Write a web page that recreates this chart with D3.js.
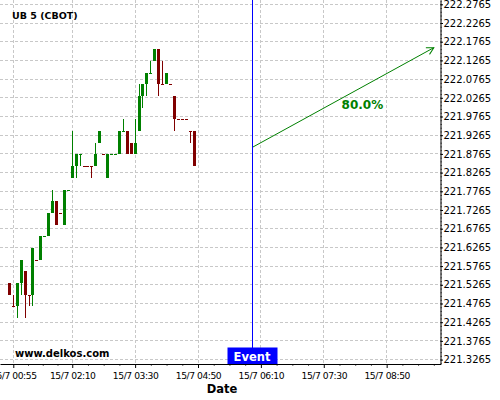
<!DOCTYPE html>
<html>
<head>
<meta charset="utf-8">
<script src="https://cdn.jsdelivr.net/npm/d3@7"></script>
<style>
  body { margin: 0; background: #fff; }
  svg { display: block; font-family: 'DejaVu Sans', sans-serif; }
</style>
</head>
<body>
<svg class="chart"></svg>
<script>
// 5 minute candles, UB 5 (CBOT), 15/7
var times = ['00:50', '00:55', '01:00', '01:05', '01:10', '01:15', '01:20', '01:25', '01:30', '01:35',
  '01:40', '01:45', '01:50', '01:55', '02:00', '02:05', '02:10', '02:15', '02:20', '02:25',
  '02:30', '02:35', '02:40', '02:45', '02:50', '02:55', '03:00', '03:05', '03:10', '03:15',
  '03:20', '03:25', '03:30', '03:35', '03:40', '03:45', '03:50', '03:55', '04:00', '04:05',
  '04:10', '04:15', '04:20', '04:25', '04:30', '04:35', '04:40', '04:45'];

var opens = [221.53125, 221.46875, 221.46875, 221.53125, 221.5625, 221.5, 221.5, 221.59375, 221.59375, 221.65625,
  221.65625, 221.71875, 221.75, 221.71875, 221.6875, 221.78125, 221.8125, 221.84375, 221.875, 221.84375,
  221.84375, 221.84375, 221.84375, 221.90625, 221.875, 221.8125, 221.875, 221.875, 221.875, 221.9375,
  221.9375, 221.90625, 221.875, 221.9375, 222.03125, 222.0625, 222.09375, 222.125, 222.15625, 222.0625,
  222.0625, 222.0625, 222.03125, 221.96875, 221.96875, 221.96875, 221.9375, 221.9375];

var highs = [221.53125, 221.5, 221.53125, 221.59375, 221.5625, 221.5, 221.625, 221.59375, 221.65625, 221.65625,
  221.71875, 221.78125, 221.75, 221.71875, 221.78125, 221.78125, 221.9375, 221.875, 221.875, 221.84375,
  221.84375, 221.84375, 221.90625, 221.9375, 221.875, 221.875, 221.875, 221.875, 221.9375, 221.96875,
  221.9375, 221.90625, 221.96875, 222.0625, 222.0625, 222.09375, 222.125, 222.15625, 222.15625, 222.125,
  222.09375, 222.0625, 222.03125, 221.96875, 221.96875, 221.96875, 221.9375, 221.9375];

var lows = [221.5, 221.46875, 221.4375, 221.5, 221.4375, 221.46875, 221.46875, 221.59375, 221.59375, 221.65625,
  221.65625, 221.71875, 221.6875, 221.71875, 221.6875, 221.78125, 221.8125, 221.8125, 221.84375, 221.84375,
  221.84375, 221.8125, 221.84375, 221.90625, 221.875, 221.8125, 221.875, 221.875, 221.875, 221.9375,
  221.875, 221.875, 221.875, 221.9375, 222.0, 222.03125, 222.09375, 222.125, 222.03125, 222.0625,
  222.0625, 222.0625, 221.9375, 221.96875, 221.96875, 221.96875, 221.90625, 221.84375];

var closes = [221.5, 221.46875, 221.53125, 221.59375, 221.5, 221.5, 221.625, 221.59375, 221.65625, 221.65625,
  221.71875, 221.75, 221.6875, 221.71875, 221.78125, 221.78125, 221.84375, 221.875, 221.875, 221.84375,
  221.84375, 221.84375, 221.875, 221.9375, 221.875, 221.875, 221.875, 221.875, 221.9375, 221.9375,
  221.875, 221.875, 221.90625, 222.03125, 222.0625, 222.09375, 222.09375, 222.15625, 222.0625, 222.0625,
  222.09375, 222.0625, 221.96875, 221.96875, 221.96875, 221.96875, 221.9375, 221.84375];

// 1 = up (green), 0 = down (red), as coloured in the picture
var rising = [0, 0, 1, 1, 0, 0, 1, 0, 1, 1,
  1, 1, 0, 0, 1, 1, 1, 1, 1, 0,
  0, 0, 1, 1, 0, 1, 1, 1, 1, 1,
  0, 0, 1, 1, 1, 1, 1, 1, 0, 0,
  1, 0, 0, 0, 0, 0, 0, 0];

var yTicks = [221.3265, 221.3765, 221.4265, 221.4765, 221.5265, 221.5765, 221.6265, 221.6765, 221.7265, 221.7765,
  221.8265, 221.8765, 221.9265, 221.9765, 222.0265, 222.0765, 222.1265, 222.1765, 222.2265, 222.2765];

var xTicks = ['00:55', '02:10', '03:30', '04:50', '06:10', '07:30', '08:50'];
var xMinorTicks = ['01:13:45', '01:32:30', '01:51:15', '02:30', '02:50', '03:10', '03:50', '04:10', '04:30',
  '05:10', '05:30', '05:50', '06:30', '06:50', '07:10', '07:50', '08:10', '08:30', '09:10', '09:30', '09:50'];

var eventTime = '06:00';
var forecastStart = { time: '06:00', value: 221.895 };
var forecastEnd = { time: '09:50', value: 222.1605 };
var forecastLabel = '80.0%';

(function() {
  'use strict';
var width = 440.5,
    height = 364;

var parse = d3.timeParse('%H:%M:%S');
function t(s) { return parse(s.length === 5 ? s + ':00' : s); }

var x = d3.scaleTime()
    .domain([t('00:38:06'), t('09:58:30')])
    .range([0, width]);

var y = d3.scaleLinear()
    .domain([221.3147, 222.288])
    .range([height, 0]);

var green = '#008000',
    red = '#800000';

var chart = d3.select('.chart')
    .attr('width', 500)
    .attr('height', 400);

var data = times.map(function(s, i) {
  return { time: t(s), open: opens[i], high: highs[i], low: lows[i], close: closes[i], up: rising[i] === 1 };
});

// grid
var grid = chart.append('g')
    .attr('stroke', '#c8c8c8')
    .attr('stroke-dasharray', '3,2')
    .attr('shape-rendering', 'crispEdges');

grid.selectAll('.hgrid')
    .data(yTicks)
  .enter().append('line')
    .attr('x1', 0)
    .attr('x2', width)
    .attr('y1', function(d) { return y(d); })
    .attr('y2', function(d) { return y(d); });

grid.selectAll('.vgrid')
    .data(xTicks)
  .enter().append('line')
    .attr('x1', function(d) { return x(t(d)); })
    .attr('x2', function(d) { return x(t(d)); })
    .attr('y1', 0)
    .attr('y2', height);

// candles
var candle = chart.append('g')
    .attr('shape-rendering', 'crispEdges')
  .selectAll('g')
    .data(data)
  .enter().append('g')
    .attr('fill', function(d) { return d.up ? green : red; })
    .attr('stroke', function(d) { return d.up ? green : red; });

candle.append('line')
    .attr('x1', function(d) { return x(d.time); })
    .attr('x2', function(d) { return x(d.time); })
    .attr('y1', function(d) { return y(d.high); })
    .attr('y2', function(d) { return y(d.low); });

candle.append('rect')
    .attr('stroke', 'none')
    .attr('x', function(d) { return x(d.time) - 1.5; })
    .attr('width', 3)
    .attr('y', function(d) { return y(Math.max(d.open, d.close)); })
    .attr('height', function(d) { return Math.max(1, y(Math.min(d.open, d.close)) - y(Math.max(d.open, d.close))); });

// event line and tag
var ex = Math.round(x(t(eventTime))) - 0.5;
chart.append('line')
    .attr('x1', ex)
    .attr('x2', ex)
    .attr('y1', 0)
    .attr('y2', 348)
    .style('stroke', '#0000ff')
    .style('stroke-width', 1);

chart.append('rect')
    .attr('x', ex - 25)
    .attr('y', 347.5)
    .attr('width', 50)
    .attr('height', 16.5)
    .attr('fill', '#0000ff');

chart.append('text')
    .attr('x', ex - 0.5)
    .attr('y', 360.5)
    .attr('text-anchor', 'middle')
    .attr('fill', '#fff')
    .attr('font-weight', 'bold')
    .attr('font-size', '11.5px')
    .text('Event');

// forecast arrow
chart.append('defs').append('marker')
    .attr('id', 'head')
    .attr('markerUnits', 'userSpaceOnUse')
    .attr('viewBox', '-9 -5 10 10')
    .attr('markerWidth', 10)
    .attr('markerHeight', 10)
    .attr('orient', 'auto')
  .append('path')
    .attr('d', 'M-7,-3.8L0,0L-7,3.8')
    .attr('fill', 'none')
    .attr('stroke', green);

var ax1 = x(t(forecastStart.time)), ay1 = y(forecastStart.value),
    ax2 = x(t(forecastEnd.time)), ay2 = y(forecastEnd.value);

chart.append('line')
    .attr('x1', ax1)
    .attr('y1', ay1)
    .attr('x2', ax2)
    .attr('y2', ay2)
    .attr('stroke', green)
    .attr('marker-end', 'url(#head)');

chart.append('text')
    .attr('x', (ax1 + ax2) / 2 + 19)
    .attr('y', (ay1 + ay2) / 2 + 12)
    .attr('text-anchor', 'middle')
    .attr('fill', green)
    .attr('font-weight', 'bold')
    .attr('font-size', '12px')
    .text(forecastLabel);

// axes
var yAxis = d3.axisRight(y)
    .tickValues(yTicks)
    .tickSize(2.5)
    .tickSizeOuter(0)
    .tickPadding(0.5)
    .tickFormat(d3.format('.4f'));

var yMinor = d3.range(0, 98).map(function(i) { return 221.3165 + i * 0.01; })
    .filter(function(v) { return v <= 222.288; });

chart.append('g')
    .attr('transform', 'translate(' + width + ',0)')
    .call(d3.axisRight(y).tickValues(yMinor).tickSize(1.5).tickFormat(''))
    .call(function(g) { g.select('.domain').remove(); })
    .selectAll('line').attr('stroke', '#666');

var yg = chart.append('g')
    .attr('transform', 'translate(' + width + ',0)')
    .call(yAxis);
yg.attr('font-family', null).attr('font-size', '10px');
yg.selectAll('text').attr('fill', '#000');

var xAxis = d3.axisBottom(x)
    .tickValues(xTicks.map(t))
    .tickSize(4)
    .tickSizeOuter(0)
    .tickPadding(4.5)
    .tickFormat(d3.timeFormat('15/7 %H:%M'));

chart.append('g')
    .attr('transform', 'translate(0,' + height + ')')
    .call(d3.axisBottom(x).tickValues(xMinorTicks.map(t)).tickSize(2).tickFormat(''))
    .call(function(g) { g.select('.domain').remove(); })
    .selectAll('line').attr('stroke', '#666');

var xg = chart.append('g')
    .attr('transform', 'translate(0,' + height + ')')
    .call(xAxis);
xg.attr('font-family', null).attr('font-size', '9.2px');
xg.selectAll('text').attr('fill', '#000').attr('letter-spacing', '-0.45px');

chart.append('text')
    .attr('x', 222)
    .attr('y', 393)
    .attr('text-anchor', 'middle')
    .attr('font-weight', 'bold')
    .attr('font-size', '11.5px')
    .text('Date');

// labels
chart.append('text')
    .attr('x', 12)
    .attr('y', 19)
    .attr('font-weight', 'bold')
    .attr('font-size', '9.5px')
    .text('UB 5 (CBOT)');

chart.append('text')
    .attr('x', 15)
    .attr('y', 357)
    .attr('font-weight', 'bold')
    .attr('font-size', '10px')
    .text('www.delkos.com');
}());
</script>
</body>
</html>
